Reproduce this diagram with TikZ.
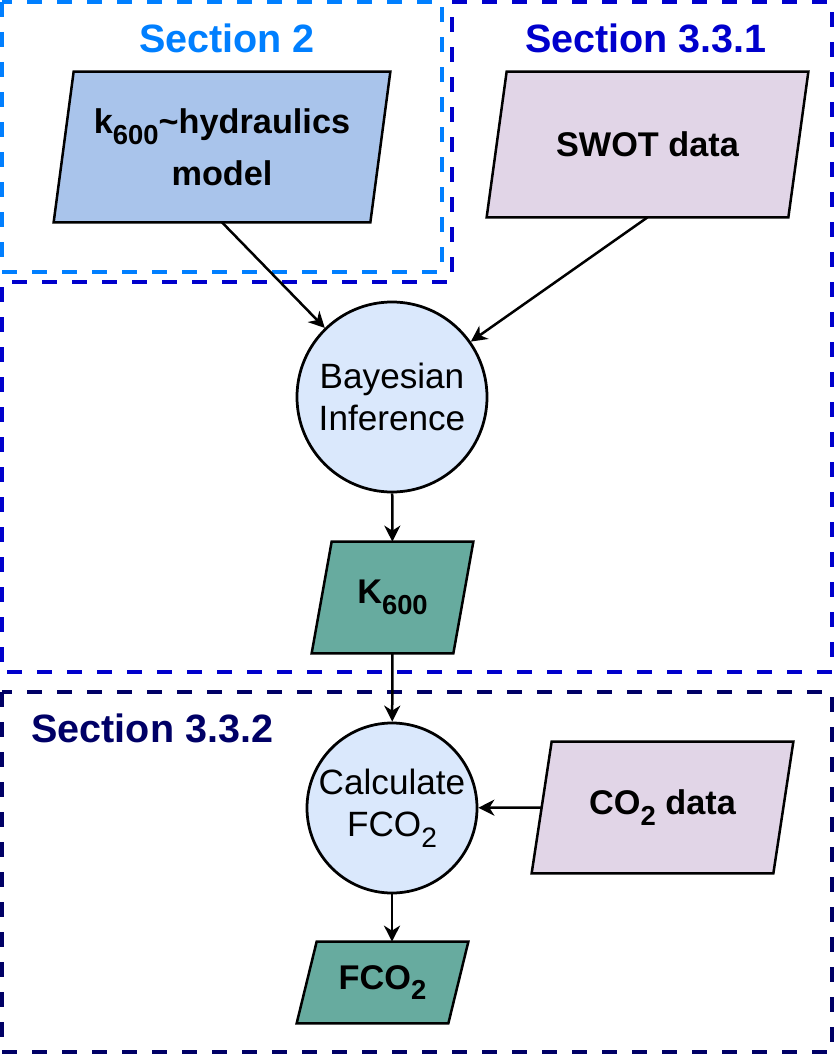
\documentclass[tikz,border=0pt]{standalone}
\usepackage{fontspec}
\usepackage{graphicx}
\setmainfont{Liberation Sans}
\usetikzlibrary{arrows.meta,positioning,backgrounds}
\definecolor{secblue}  {HTML}{007FFF}
\definecolor{secdark}  {HTML}{0000CC}
\definecolor{secnavy}  {HTML}{000066}
\definecolor{modelfill}{HTML}{A9C4EB}
\definecolor{datafill} {HTML}{E1D5E7}
\definecolor{outfill}  {HTML}{67AB9F}
\definecolor{procfill} {HTML}{DAE8FC}
\newcommand{\dn}[1]{\raisebox{-0.6ex}{\scalebox{0.8}{#1}}}
\tikzset{
  para/.style={rectangle,inner sep=0pt,align=center,
               font=\fontsize{19.5}{24}\selectfont\bfseries},
  paraedge/.style={draw=black,line width=0.5mm,line join=miter},
  proc/.style={circle,draw=black,fill=procfill,line width=0.55mm,
               inner sep=0pt,align=center,
               font=\fontsize{20}{24}\selectfont},
  arr/.style={-{Stealth[length=3.2mm,width=3.2mm,inset=1mm]},line width=0.5mm},
  secbox/.style={draw=#1,dash pattern=on 3mm off 3mm,line width=0.9mm},
  sectitle/.style={text=#1,inner sep=0pt,
                   font=\fontsize{22.5}{27}\selectfont\bfseries},
}

\begin{document}
\begin{tikzpicture}[x=0.2mm,y=-0.2mm]
  \useasboundingbox (0,0) rectangle (837,1055);
  % section frames
  \draw[secbox=secblue] (2,2) rectangle (442,272);
  \draw[secbox=secdark] (452,2) -- (832,2) -- (832,672) -- (2,672)
        -- (2,282) -- (452,282) -- cycle;
  \draw[secbox=secnavy] (2,692) rectangle (832,1052);
  \node[sectitle=secblue] (sec2)   at (227,38)  {Section 2};
  \node[sectitle=secdark] (sec331) at (646,38)  {Section 3.3.1};
  \node[sectitle=secnavy,anchor=west] (sec332) at (31,728) {Section 3.3.2};

  % inputs
  \node[para,minimum width=67.2mm,minimum height=30mm]
        (model) at (222,147) {k\dn{600}\textasciitilde hydraulics\\[2mm]model};
  \node[para,minimum width=64.2mm,minimum height=29mm]
        (swot) at (647.5,144.5) {SWOT data};
  \node[proc,minimum size=38mm] (bayes) at (392,397) {Bayesian\\Inference};
  \node[para,minimum width=32.2mm,minimum height=22.2mm]
        (kout) at (392.5,597.5) {K\dn{600}};

  % flux part
  \node[proc,minimum size=34mm] (calc) at (392,808) {Calculate\\FCO\dn{2}};
  \node[para,minimum width=52.2mm,minimum height=26.2mm]
        (co2) at (662.5,807.5) {CO\dn{2} data};
  \node[para,minimum width=34.2mm,minimum height=16.2mm]
        (fco2) at (382.5,982.5) {FCO\dn{2}};

  % parallelogram outlines behind the texts
  \begin{scope}[on background layer]
    \foreach \n/\c in {model/modelfill,swot/datafill,kout/outfill,
                       co2/datafill,fco2/outfill}
      \draw[paraedge,fill=\c] ([xshift=4mm]\n.north west) -- (\n.north east)
        -- ([xshift=-4mm]\n.south east) -- (\n.south west) -- cycle;
  \end{scope}

  \draw[arr] (model.south) -- (bayes);
  \draw[arr] (swot.south) -- (bayes);
  \draw[arr] (bayes) -- (kout);
  \draw[arr] (kout) -- (calc);
  \draw[arr] ([xshift=2mm]co2.west) -- (calc);
  \draw[arr] (calc) -- (calc.south |- fco2.north);
\end{tikzpicture}
\end{document}
